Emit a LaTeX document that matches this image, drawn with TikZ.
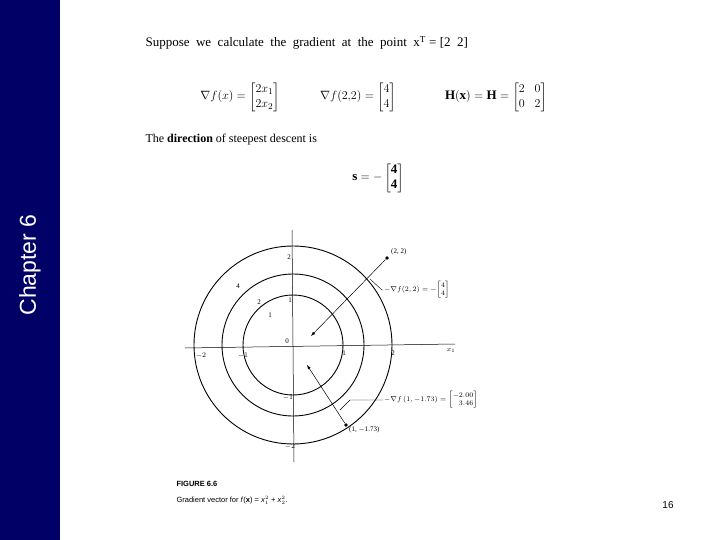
\documentclass[tikz,border=0pt]{standalone}
\usepackage{amsmath}
\usepackage{fontspec}
\setmainfont{Liberation Serif}
\newfontfamily\hv{Liberation Sans}
\begin{document}
\begin{tikzpicture}[x=1pt,y=-1pt,
  lab/.style={inner sep=1pt,font=\fontsize{7}{8}\selectfont},
  ring/.style={line width=0.9pt},
  ax/.style={line width=0.5pt},
  dot/.style={circle,fill=black,inner sep=1.4pt},
  gr/.style={-latex,line width=0.5pt}]
\useasboundingbox (0,0) rectangle (720,540);
\fill[white] (0,0) rectangle (720,540);
\fill[blue!40!black] (0,0) rectangle (60,540);
\node[rotate=90,text=white,font=\hv\fontsize{23}{25}\selectfont] (chap) at (30,265) {Chapter 6};
\node[font=\hv\fontsize{10}{12}\selectfont] (num) at (668,505) {16};
\node[anchor=west,font=\fontsize{13}{15}\selectfont] (t1) at (142,43) {Suppose\ \ we\ \ calculate\ \ the\ \ gradient\ \ at\ \ the\ \ point\ \ x$^{\mathrm T}$ = [2\ \ 2]};
\node[font=\fontsize{13}{15}\selectfont] (e1) at (240,97) {$\nabla f(x) = \begin{bmatrix}2x_1\\2x_2\end{bmatrix}$};
\node[font=\fontsize{13}{15}\selectfont] (e2) at (358,97) {$\nabla f(2{,}2) = \begin{bmatrix}4\\4\end{bmatrix}$};
\node[font=\fontsize{13}{15}\selectfont] (e3) at (496,97) {$\mathbf{H}(\mathbf{x}) = \mathbf{H} = \begin{bmatrix}2&0\\0&2\end{bmatrix}$};
\node[anchor=west,font=\fontsize{12}{14}\selectfont] (t2) at (142,140) {The \textbf{direction} of steepest descent is};
\node[font=\fontsize{13}{15}\selectfont] (e4) at (378,178) {$\mathbf{s} = -\begin{bmatrix}\mathbf{4}\\\mathbf{4}\end{bmatrix}$};
% figure
\coordinate (O) at (293,345);
\draw[ax] (185,348) -- (455,344);
\draw[ax] (292,230) -- (294,462);
\draw[ring] (O) circle (99);
\draw[ring] (O) circle (71);
\draw[ring] (O) circle (50);
\node[lab] (x1) at (451,350) {$x_1$};
\node[lab] at (287,341) {0};
\node[lab] at (201,356) {$-2$};
\node[lab] at (243,356) {$-1$};
\node[lab] at (344,353) {1};
\node[lab] at (393,353) {2};
\node[lab] at (289,257) {2};
\node[lab] at (290,300) {1};
\node[lab] at (288,398) {$-1$};
\node[lab] at (290,447) {$-2$};
\node[lab] at (238,286) {4};
\node[lab] at (259,302) {2};
\node[lab] at (270,315) {1};
\node[dot] (p1) at (387,258) {};
\node[dot] (p2) at (346,425) {};
\node[lab,anchor=west] at (390,252) {(2, 2)};
\node[lab,anchor=west] at (348,430) {(1, $-$1.73)};
\coordinate (a1) at (311,336);
\coordinate (a2) at (307,365);
\draw[gr] (p1) -- (a1);
\draw[gr] (p2) -- (a2);
\node[lab,anchor=west] (l1) at (383,290) {$-\nabla f(2,2) = -\!\begin{bmatrix}4\\4\end{bmatrix}$};
\node[lab,anchor=west] (l2) at (383,400) {$-\nabla f\,(1,-1.73) = \begin{bmatrix}-2.00\\ \phantom{-}3.46\end{bmatrix}$};
\draw[line width=0.4pt] (370,279) -- (382,290) -- (l1.west);
\draw[line width=0.4pt] (340,410) -- (350,400) -- (l2.west);
\node[anchor=west,font=\hv\bfseries\fontsize{7.5}{9}\selectfont] (cap1) at (173,484) {FIGURE 6.6};
\node[anchor=west,font=\hv\fontsize{7.5}{9}\selectfont] (cap2) at (173,500) {Gradient vector for \textit{f}(\textbf{x}) = \textit{x}$_1^2$ + \textit{x}$_2^2$.};
\end{tikzpicture}
\end{document}
